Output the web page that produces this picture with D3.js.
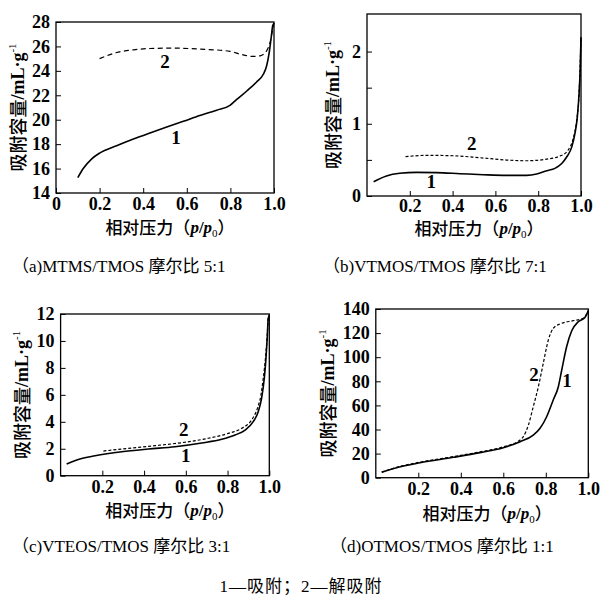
<!DOCTYPE html>
<html><head><meta charset="utf-8">
<script src="https://cdn.jsdelivr.net/npm/d3@7"></script>
<style>body{margin:0;background:#fff}</style></head>
<body><svg id="c" width="603" height="605"></svg>
<script>
// ---------- data ----------
const xTicksA = [0, 0.2, 0.4, 0.6, 0.8, 1.0];
const xTicksBCD = [0.2, 0.4, 0.6, 0.8, 1.0];
const yTicksA = [14, 16, 18, 20, 22, 24, 26, 28];
const yTicksB = [0, 1, 2];
const yMinorB = [0.5, 1.5];
const yTicksC = [0, 2, 4, 6, 8, 10, 12];
const yTicksD = [0, 20, 40, 60, 80, 100, 120, 140];

const aAds = [[0.10,15.25],[0.125,16.0],[0.164,16.8],[0.20,17.27],[0.278,17.87],[0.355,18.42],[0.431,18.92],[0.508,19.41],[0.584,19.87],[0.66,20.34],[0.737,20.78],[0.798,21.17],[0.829,21.66],[0.875,22.35],[0.92,23.09],[0.951,23.72],[0.966,24.4],[0.978,25.5],[0.988,26.87],[0.994,27.7],[1.0,27.9]];
const aDes = [[0.20,25.0],[0.278,25.5],[0.355,25.72],[0.431,25.83],[0.538,25.86],[0.66,25.78],[0.798,25.6],[0.844,25.37],[0.905,25.18],[0.936,25.23],[0.966,25.64],[0.982,26.33],[0.994,27.4],[1.0,27.9]];

const bAds = [[0.031,0.198],[0.091,0.277],[0.153,0.314],[0.231,0.327],[0.325,0.323],[0.434,0.309],[0.543,0.295],[0.652,0.286],[0.746,0.286],[0.793,0.304],[0.84,0.35],[0.878,0.383],[0.91,0.45],[0.933,0.54],[0.957,0.68],[0.972,0.87],[0.983,1.10],[0.991,1.42],[0.996,1.74],[1.0,2.2]];
const bDes = [[0.18,0.544],[0.278,0.563],[0.403,0.557],[0.527,0.53],[0.652,0.498],[0.746,0.488],[0.84,0.51],[0.902,0.553],[0.94,0.636],[0.964,0.80],[0.98,1.05],[0.991,1.42],[0.997,1.9],[1.0,2.2]];

const cAds = [[0.029,0.87],[0.085,1.21],[0.165,1.48],[0.293,1.78],[0.42,1.98],[0.548,2.15],[0.676,2.43],[0.772,2.70],[0.836,3.02],[0.884,3.39],[0.923,4.01],[0.947,4.75],[0.963,5.74],[0.976,7.23],[0.984,8.71],[0.99,10.2],[0.995,11.68],[1.0,11.9]];
const cDes = [[0.205,1.83],[0.324,2.03],[0.452,2.23],[0.58,2.45],[0.708,2.78],[0.803,3.14],[0.868,3.52],[0.915,4.13],[0.943,5.0],[0.96,5.99],[0.971,7.23],[0.983,8.96],[0.99,10.4],[0.995,11.7],[1.0,11.9]];

const dAds = [[0.028,4.5],[0.098,8.3],[0.208,12.4],[0.365,16.9],[0.49,20.8],[0.6,24.9],[0.679,29.9],[0.741,35.4],[0.773,41.0],[0.804,50.6],[0.835,64.5],[0.859,75.5],[0.875,89.4],[0.898,108.7],[0.922,122],[0.953,129.5],[0.984,133],[1.0,138.5]];
const dDes = [[0.028,4.6],[0.098,8.6],[0.208,12.9],[0.365,17.5],[0.49,21.4],[0.6,25.7],[0.679,31.3],[0.694,34],[0.718,43.7],[0.741,58.9],[0.765,75.5],[0.788,94.9],[0.812,114.3],[0.835,124],[0.867,127.6],[0.929,130.3],[0.976,132.3],[1.0,138.5]];

const captions = ["（a)MTMS/TMOS 摩尔比 5:1","（b)VTMOS/TMOS 摩尔比 7:1","（c)VTEOS/TMOS 摩尔比 3:1","（d)OTMOS/TMOS 摩尔比 1:1"];
const legendText = "1—吸附；2—解吸附";
const seriesNames = ["1","2"];

// ---------- layout ----------
const svg = d3.select("#c");
svg.append("rect").attr("width",603).attr("height",605).attr("fill","#fff");
const SERIF = "'Liberation Serif','Times New Roman',serif";
const CJK = "'Noto Sans CJK SC','Noto Sans',sans-serif";
const CAPF = "'Liberation Serif','Noto Sans CJK SC',serif";

const panels = [
  {x0:56,x1:274,y0:22,y1:193,yd:[14,28],xt:xTicksA,yt:yTicksA,ym:[],ads:aAds,des:aDes,dash:"5,3.5",
   lab1:[0.55,18.4],lab2:[0.50,24.6],ytx:20,xty:229,xpad:4,cap:[12,268]},
  {x0:367,x1:581,y0:14,y1:196,yd:[0,2.52],xt:xTicksBCD,yt:yTicksB,ym:yMinorB,ads:bAds,des:bDes,dash:"3,2",
   lab1:[0.30,0.17],lab2:[0.49,0.70],ytx:335,xty:230,xpad:3,cap:[323,268]},
  {x0:60.6,x1:269.3,y0:314,y1:475.7,yd:[0,12],xt:xTicksBCD,yt:yTicksC,ym:[],ads:cAds,des:cDes,dash:"3,2",
   lab1:[0.60,1.35],lab2:[0.59,3.3],ytx:24,xty:512,xpad:5,cap:[12,548]},
  {x0:375.8,x1:588.3,y0:309,y1:477.7,yd:[0,140],xt:xTicksBCD,yt:yTicksD,ym:[],ads:dAds,des:dDes,dash:"3,2",
   lab1:[0.900,79],lab2:[0.745,84],ytx:330,xty:515,xpad:5,cap:[330,548]}
];

panels.forEach((p,i)=>{
  const x = d3.scaleLinear().domain([0,1]).range([p.x0,p.x1]);
  const y = d3.scaleLinear().domain(p.yd).range([p.y1,p.y0]);
  const g = svg.append("g");

  const xAxis = d3.axisBottom(x).tickValues(p.xt).tickSize(-5).tickPadding(p.xpad)
      .tickFormat(d=> d===0 ? "0" : d3.format(".1f")(d));
  const gx = g.append("g").attr("transform",`translate(0,${p.y1})`).call(xAxis);
  const yAxis = d3.axisLeft(y).tickValues(p.yt).tickSize(-5).tickPadding(6).tickFormat(d3.format("d"));
  const gy = g.append("g").attr("transform",`translate(${p.x0},0)`).call(yAxis);
  if (p.ym.length) g.append("g").attr("transform",`translate(${p.x0},0)`)
      .call(d3.axisLeft(y).tickValues(p.ym).tickSize(-5).tickFormat(""))
      .select(".domain").remove();
  [gx,gy].forEach(a=>{
    a.select(".domain").remove();
    a.selectAll("text").attr("font-family",SERIF).attr("font-weight","bold").attr("font-size",18).attr("fill","#000");
  });
  g.selectAll("line").attr("stroke","#000").attr("stroke-width",1);
  g.append("rect").attr("x",p.x0).attr("y",p.y0).attr("width",p.x1-p.x0).attr("height",p.y1-p.y0)
    .attr("fill","none").attr("stroke","#000").attr("stroke-width",1.3);

  const line = d3.line().x(d=>x(d[0])).y(d=>y(d[1])).curve(d3.curveMonotoneX);
  g.append("path").attr("d",line(p.ads)).attr("fill","none").attr("stroke","#000").attr("stroke-width",1.6);
  g.append("path").attr("d",line(p.des)).attr("fill","none").attr("stroke","#000").attr("stroke-width",1.2)
    .attr("stroke-dasharray",p.dash);

  [[seriesNames[0],p.lab1],[seriesNames[1],p.lab2]].forEach(([t,pos])=>{
    g.append("text").attr("x",x(pos[0])).attr("y",y(pos[1])).attr("text-anchor","middle")
      .attr("dominant-baseline","middle")
      .attr("font-family",SERIF).attr("font-weight","bold").attr("font-size",19).text(t);
  });

  // x title
  const xc = (p.x0+p.x1)/2+5;
  const xt = g.append("text").attr("x",xc).attr("y",p.xty).attr("text-anchor","middle").attr("fill","#000")
    .attr("dominant-baseline","middle").attr("font-size",17).attr("font-family",CJK).attr("font-weight",500);
  xt.append("tspan").text("相对压力（");
  xt.append("tspan").attr("font-family",SERIF).attr("font-weight","bold").attr("font-style","italic").text("p");
  xt.append("tspan").attr("font-family",SERIF).attr("font-weight","bold").text("/");
  xt.append("tspan").attr("font-family",SERIF).attr("font-weight","bold").attr("font-style","italic").text("p");
  xt.append("tspan").attr("font-family",SERIF).attr("font-size",11).attr("dy",5).text("0");
  xt.append("tspan").attr("dy",-5).text("）");

  // y title
  const yc = (p.y0+p.y1)/2;
  const yt = g.append("text").attr("transform",`translate(${p.ytx},${yc}) rotate(-90)`).attr("fill","#000")
    .attr("text-anchor","middle").attr("dominant-baseline","middle")
    .attr("font-size",18).attr("font-family",CJK).attr("font-weight",500);
  yt.append("tspan").text("吸附容量");
  yt.append("tspan").attr("font-family",SERIF).attr("font-weight","bold").text("/mL·g");
  yt.append("tspan").attr("font-family",SERIF).attr("font-size",11).attr("dy",-7).text("-1");

  svg.append("text").attr("x",p.cap[0]).attr("y",p.cap[1]).attr("dominant-baseline","middle").attr("fill","#000")
    .attr("font-family",CAPF).attr("font-size",17).text(captions[i]);
});

svg.append("text").attr("x",301).attr("y",588).attr("text-anchor","middle").attr("dominant-baseline","middle")
  .attr("font-family",CAPF).attr("font-size",17).attr("letter-spacing",1).attr("fill","#000").text(legendText);
</script></body></html>
